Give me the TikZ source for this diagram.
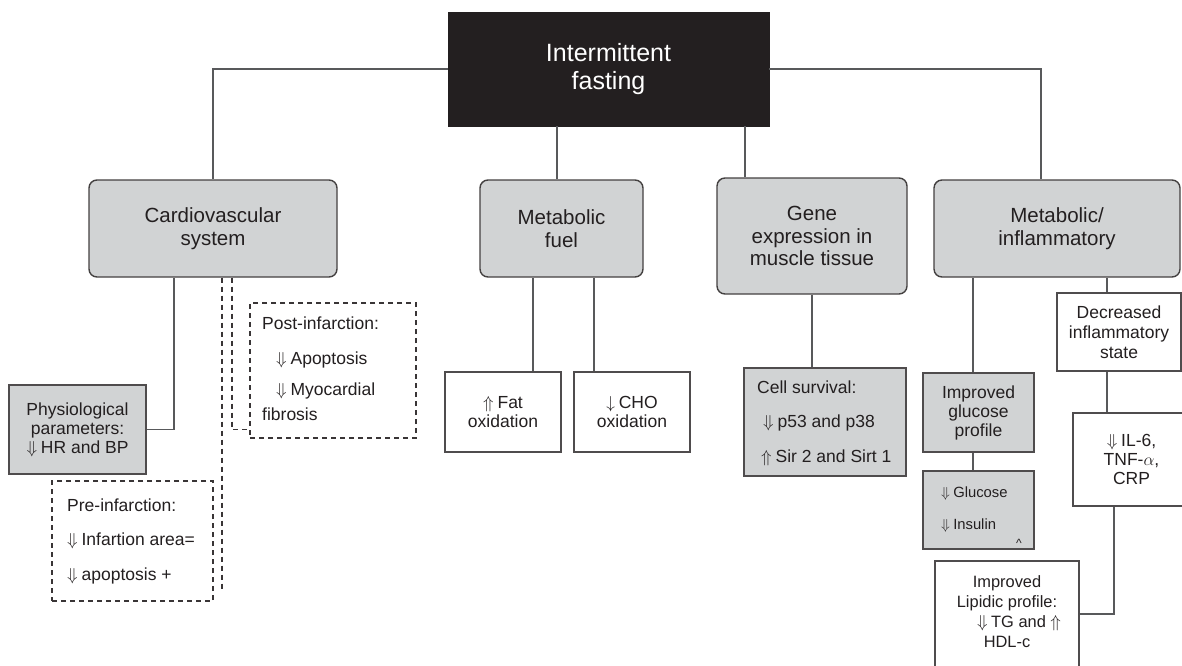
\documentclass[tikz,border=0pt]{standalone}
\usepackage{fontspec}
\setmainfont{Liberation Sans}
\newcommand\arDn{$\Downarrow$\hspace{0.22em}}
\newcommand\arUp{$\Uparrow$\hspace{0.22em}}
\newcommand\arSdn{$\downarrow$\hspace{0.22em}}
\newcommand\fsz[2]{\fontsize{#1}{#2}\selectfont}
\definecolor{boxgray}{HTML}{D1D3D4}
\definecolor{linegray}{HTML}{58595B}
\definecolor{ink}{HTML}{231F20}
\begin{document}
\begin{tikzpicture}[x=1pt,y=-1pt,
  catbox/.style={draw=ink!85, line width=1.4pt, rounded corners=8pt, fill=boxgray, align=center, text=ink, font=\fsz{20.5}{22.5}, inner sep=0pt},
  sqbox/.style={draw=ink!80, line width=1.4pt, align=center, text=ink, inner sep=0pt},
  graybox/.style={sqbox, fill=boxgray},
  dbox/.style={draw=ink!90, line width=1.5pt, dash pattern=on 5pt off 4pt},
  conn/.style={draw=linegray, line width=1.7pt},
  dconn/.style={draw=ink!90, line width=1.6pt, dash pattern=on 5pt off 4pt},
  lbl/.style={inner sep=0pt, text=ink, anchor=base west, font=\fsz{17.5}{19}}]
\useasboundingbox (0,0) rectangle (1182,665);
\clip (0,0) rectangle (1182,665);
\fill[white] (0,0) rectangle (1182,665);

% top
\node[draw=ink, fill=ink, minimum width=321pt, minimum height=114pt, text=white, font=\fsz{25}{27.5}, align=center, inner sep=0pt] (if) at (608.5,69) {Intermittent\\fasting};

% categories
\node[catbox, minimum width=248pt, minimum height=97pt] (cv) at (213,228.5) {Cardiovascular\\system};
\node[catbox, minimum width=163pt, minimum height=97pt] (mf) at (561.5,228.5) {Metabolic\\fuel};
\node[catbox, minimum width=190pt, minimum height=116pt] (ge) at (812,236) {Gene\\expression in\\muscle tissue};
\node[catbox, minimum width=246pt, minimum height=97pt] (mi) at (1057,228.5) {Metabolic/\\inflammatory};

\draw[conn] (if.west) -| (cv.north);
\draw[conn] (if.east) -| ([xshift=-16pt]mi.north);
\coordinate (a1) at ([xshift=-4.5pt]mf.north);
\draw[conn] (a1) -- (a1 |- if.south);
\coordinate (a2) at ([xshift=-67pt]ge.north);
\draw[conn] (a2) -- (a2 |- if.south);

% cardiovascular
\node[graybox, minimum width=137pt, minimum height=89pt, font=\fsz{17.5}{19}] (ph) at (77.5,429.5) {Physiological\\parameters:\\\arDn HR and BP};
\coordinate (cvs1) at ([xshift=-39pt]cv.south);
\draw[conn] (ph.east) -| (cvs1);
\node[dbox, minimum width=166pt, minimum height=135pt] (po) at (333,370.5) {};
\coordinate (cvs2) at ([xshift=19pt]cv.south);
\draw[dconn] (cvs2) |- (po.west |- ph.east);
\coordinate (cvs3) at ([xshift=9pt]cv.south);
\coordinate (pend) at (222,590);
\draw[dconn] (cvs3) -- (pend);
\node[dbox, minimum width=161pt, minimum height=120pt] (pr) at (132.5,541) {};
\node[lbl] (po1) at (262,329) {Post-infarction:};
\node[lbl] (po2) at (276,364) {\arDn Apoptosis};
\node[lbl] (po3) at (276,395) {\arDn Myocardial};
\node[lbl] (po4) at (262,420) {fibrosis};
\node[lbl] (pr1) at (67,511) {Pre-infarction:};
\node[lbl] (pr2) at (67,545) {\arDn Infartion area=};
\node[lbl] (pr3) at (67,580) {\arDn apoptosis +};

% metabolic fuel
\node[sqbox, minimum width=116pt, minimum height=80pt, font=\fsz{17.5}{19}] (fat) at (503,412) {\arUp Fat\\oxidation};
\node[sqbox, minimum width=116pt, minimum height=80pt, font=\fsz{17.5}{19}] (cho) at (632,412) {\arSdn CHO\\oxidation};
\coordinate (fa) at ([xshift=30pt]fat.north);
\draw[conn] (fa) -- (fa |- mf.south);
\coordinate (ch) at ([xshift=-38pt]cho.north);
\draw[conn] (ch) -- (ch |- mf.south);

% gene expression
\node[graybox, minimum width=162pt, minimum height=108pt] (cs) at (825,422) {};
\draw[conn] (ge.south) -- (ge.south |- cs.north);
\node[lbl] (cs1) at (757,393) {Cell survival:};
\node[lbl] (cs2) at (763,427) {\arDn p53 and p38};
\node[lbl] (cs3) at (761,462) {\arUp Sir 2 and Sirt 1};

% metabolic / inflammatory
\node[graybox, minimum width=111pt, minimum height=79pt, font=\fsz{17.5}{19}] (gp) at (978.5,412.5) {Improved\\glucose\\profile};
\coordinate (g1) at ([xshift=-5.5pt]gp.north);
\draw[conn] (g1) -- (g1 |- mi.south);
\node[graybox, minimum width=111pt, minimum height=78pt] (gi) at (978.5,510) {};
\coordinate (g2) at ([xshift=-5.5pt]gi.north);
\draw[conn] (g2) -- (g2 |- gp.south);
\node[lbl, font=\fsz{14.8}{16}] (gi1) at (941,497) {\arDn Glucose};
\node[lbl, font=\fsz{14.8}{16}] (gi2) at (941,529) {\arDn Insulin};
\node[lbl, font=\fsz{12}{12}] (gi3) at (1016,547) {\textasciicircum};

\node[sqbox, minimum width=124pt, minimum height=78pt, font=\fsz{17.5}{20}] (ds) at (1119,332) {Decreased\\inflammatory\\state};
\coordinate (d1) at ([xshift=-12pt]ds.north);
\draw[conn] (d1) -- (d1 |- mi.south);
\node[sqbox, minimum width=117pt, minimum height=93pt, font=\fsz{17.5}{19}] (il) at (1131.5,459.5) {\arDn IL-6,\\TNF-$\alpha$,\\CRP};
\coordinate (i1) at ([xshift=-24.5pt]il.north);
\draw[conn] (i1) -- (i1 |- ds.south);
\node[sqbox, minimum width=144pt, minimum height=139pt] (lp) at (1007,630.5) {};
\node[inner sep=0pt, text=ink, font=\fsz{16.4}{20}, align=center, anchor=north] (lpt) at (1007,575) {Improved\\Lipidic profile:\\\hspace*{24pt}\arDn TG and $\Uparrow$\\HDL-c};
\coordinate (i2) at ([xshift=-17.5pt]il.south);
\draw[conn] (i2) |- ([yshift=16.5pt]lp.east);
\end{tikzpicture}
\end{document}
